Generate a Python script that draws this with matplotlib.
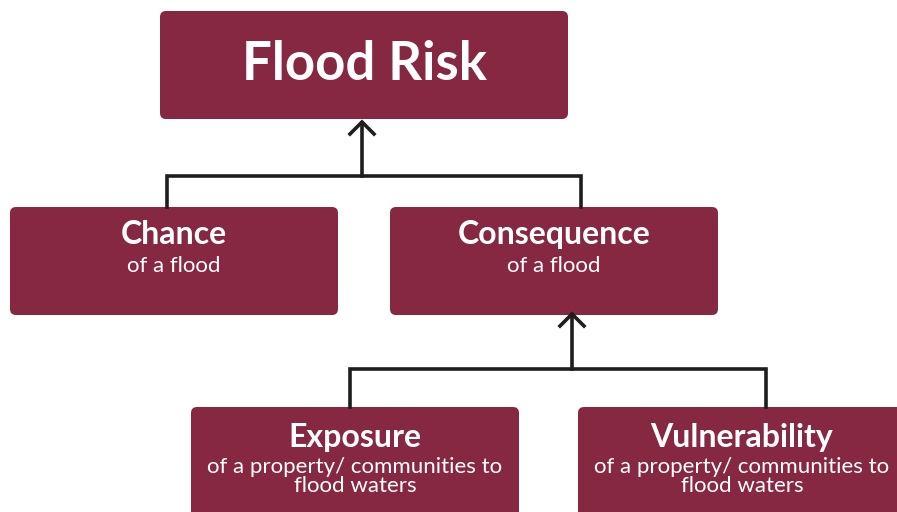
import matplotlib.pyplot as plt
from matplotlib.patches import FancyBboxPatch

# diagram text
titles = ['Flood Risk', 'Chance', 'Consequence', 'Exposure', 'Vulnerability']
subtitles = [[], ['of a flood'], ['of a flood'],
             ['of a property/ communities to', 'flood waters'],
             ['of a property/ communities to', 'flood waters']]

BOX = '#862841'
LINE = '#1e1e1e'

# layout in pixel coords (x0, y0, x1, y1), y measured from top
boxes = [(160, 11, 568, 119),
         (10, 207, 338, 315),
         (390, 207, 718, 315),
         (191, 407, 519, 530),
         (578, 407, 906, 530)]
# baselines of title and subtitle lines
title_y = [80, 244, 244, 447, 447]
sub_y = [[], [272], [272], [473, 492], [473, 492]]

fig = plt.figure(figsize=(8.97, 5.12), dpi=100)
ax = fig.add_axes([0, 0, 1, 1])
ax.set_xlim(0, 897)
ax.set_ylim(512, 0)
ax.axis('off')

for i, (x0, y0, x1, y1) in enumerate(boxes):
    p = FancyBboxPatch((x0 + 6, y0 + 6), x1 - x0 - 12, y1 - y0 - 12,
                       boxstyle='round,pad=6', fc=BOX, ec='none')
    ax.add_patch(p)
    cx = (x0 + x1) / 2
    fs = 38 if i == 0 else 23
    ax.text(cx, title_y[i], titles[i], color='white', fontsize=fs,
            fontweight='bold', family='Lato', ha='center', va='baseline')
    for line, yy in zip(subtitles[i], sub_y[i]):
        ax.text(cx, yy, line, color='white', fontsize=16,
                family='Lato', ha='center', va='baseline')

# connectors
def bracket(xl, xr, ybar, ybot, xa, ytip):
    ax.plot([xl, xl, xr, xr], [ybot, ybar, ybar, ybot], color=LINE, lw=2.6,
            solid_joinstyle='miter')
    ax.plot([xa, xa], [ybar, ytip + 1], color=LINE, lw=2.6)
    ax.plot([xa - 12, xa, xa + 12], [ytip + 12, ytip, ytip + 12], color=LINE,
            lw=2.6, solid_joinstyle='miter')

bracket(167, 581, 176, 207, 362, 122)
bracket(350, 766, 369, 407, 572, 314)

fig.savefig('out.png', dpi=100, facecolor='white')
